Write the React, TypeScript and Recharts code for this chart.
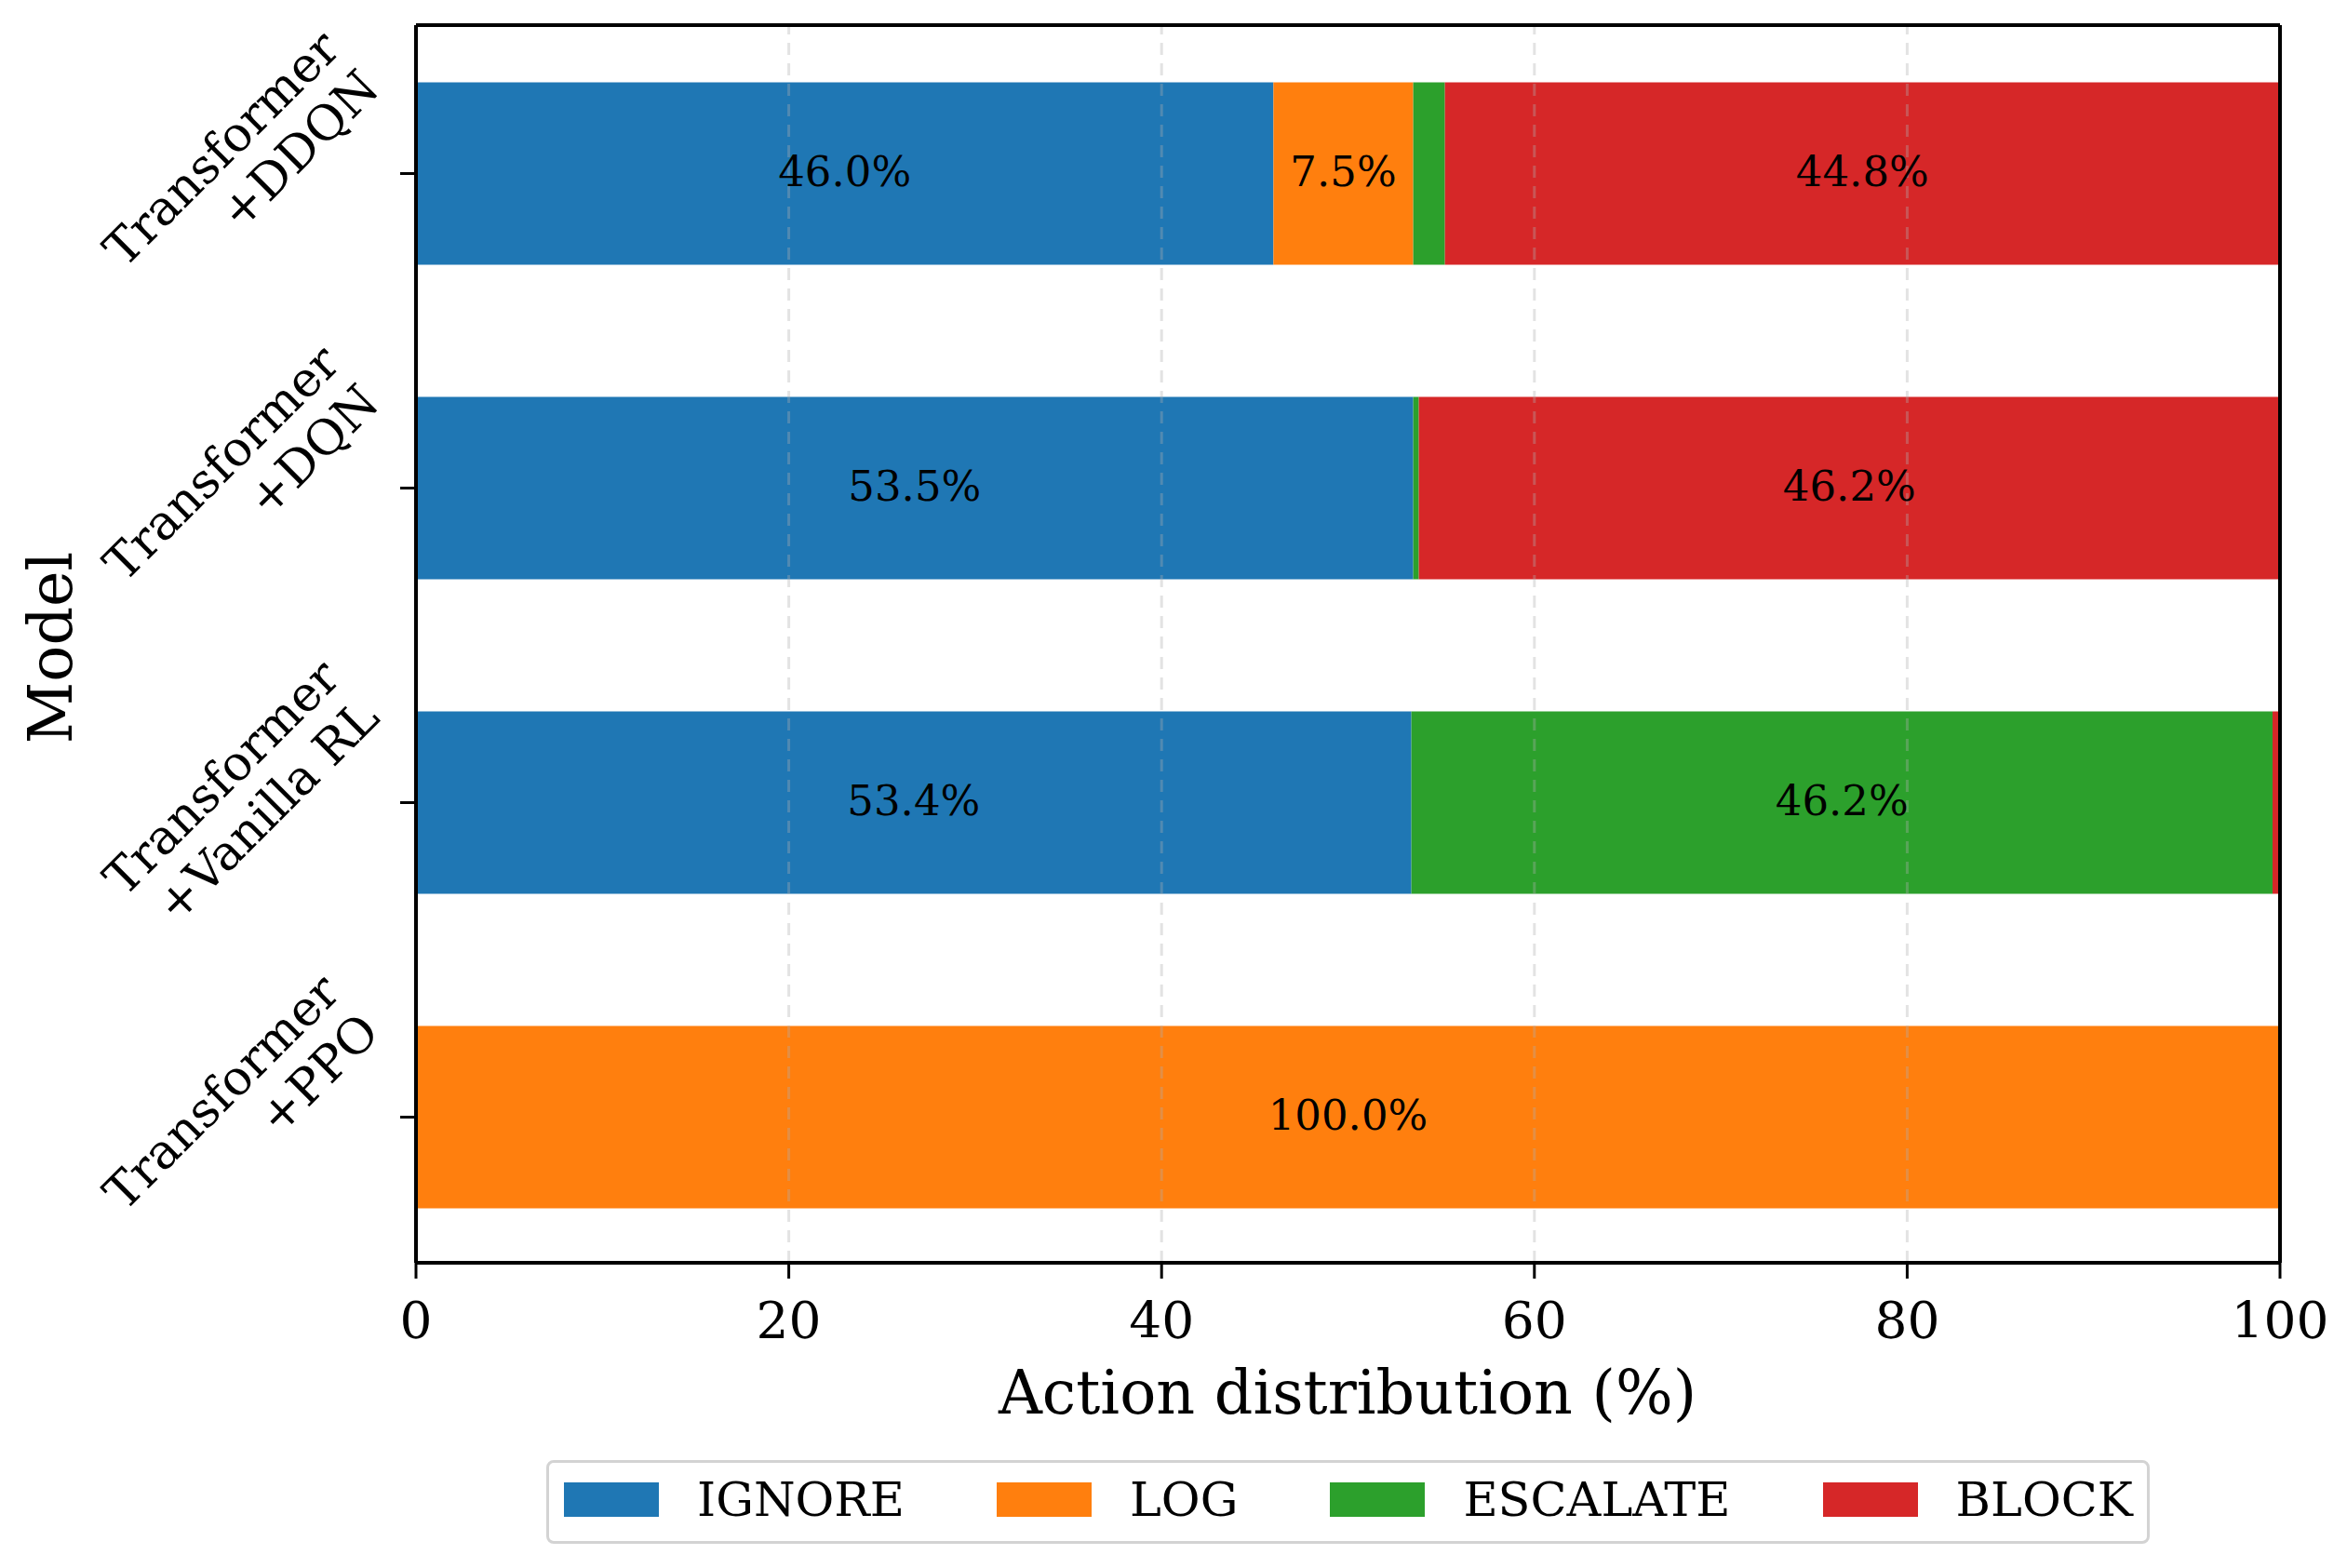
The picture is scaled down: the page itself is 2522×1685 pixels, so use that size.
import { BarChart, Bar, XAxis, YAxis, Legend, LabelList, ReferenceLine, Label } from "recharts";

const MODELS = ["Transformer\n+DDQN", "Transformer\n+DQN", "Transformer\n+Vanilla RL", "Transformer\n+PPO"];
const ACTIONS = ["IGNORE", "LOG", "ESCALATE", "BLOCK"];
const COLORS = ["#1f77b4", "#ff7f0e", "#2ca02c", "#d62728"];

// percent of actions per model, same order as MODELS
const IGNORE = [46.0, 53.5, 53.4, 0];
const LOG = [7.5, 0, 0, 100.0];
const ESCALATE = [1.7, 0.3, 46.2, 0];
const BLOCK = [44.8, 46.2, 0.4, 0];

const X_TICKS = [0, 20, 40, 60, 80, 100];
const GRID_TICKS = [20, 40, 60, 80];

const data = MODELS.map((model, i) => ({
  model,
  IGNORE: IGNORE[i],
  LOG: LOG[i],
  ESCALATE: ESCALATE[i],
  BLOCK: BLOCK[i],
}));

const FONT = "DejaVu Serif";
const W = 2522;
const H = 1685;
const PLOT_LEFT = 447;
const PLOT_BOTTOM = 1357;

function XTick(props: any) {
  const { x, payload } = props;
  return (
    <text x={x} y={1438} textAnchor="middle" fontFamily={FONT} fontSize={55} fill="#000">
      {payload.value}
    </text>
  );
}

function YTick(props: any) {
  const { y, payload } = props;
  const lines = String(payload.value).split("\n");
  const ax = PLOT_LEFT - 37;
  const ay = y - 89;
  return (
    <g transform={`translate(${ax},${ay}) rotate(-45)`}>
      {lines.map((l, i) => (
        <text
          key={i}
          x={0}
          y={(i - (lines.length - 1)) * 60}
          textAnchor="end"
          fontFamily={FONT}
          fontSize={52}
          fill="#000"
        >
          {l}
        </text>
      ))}
    </g>
  );
}

function SegLabel(props: any) {
  const { x, y, width, height, value } = props;
  if (value == null || value < 5) return null;
  return (
    <text
      x={x + width / 2}
      y={y + height / 2 + 13}
      textAnchor="middle"
      fontFamily={FONT}
      fontSize={45}
      fill="#000"
    >
      {`${Number(value).toFixed(1)}%`}
    </text>
  );
}

function LegendBox() {
  return (
    <div
      style={{
        boxSizing: "border-box",
        width: 1723,
        height: 90,
        border: "3px solid #d3d3d3",
        borderRadius: 8,
        background: "#fff",
        display: "flex",
        alignItems: "center",
        paddingLeft: 16,
        paddingBottom: 6,
        fontFamily: FONT,
        fontSize: 51,
        lineHeight: 1,
        color: "#000",
      }}
    >
      {ACTIONS.map((a, i) => (
        <div key={a} style={{ display: "flex", alignItems: "center", marginRight: i < ACTIONS.length - 1 ? 99 : 0 }}>
          <div style={{ width: 102, height: 37, background: COLORS[i], marginRight: 41 }} />
          <span>{a}</span>
        </div>
      ))}
    </div>
  );
}

export default function App() {
  return (
    <div style={{ position: "absolute", left: 0, top: 0, width: W, height: H, background: "#fff" }}>
      <BarChart
        width={W}
        height={H}
        data={data}
        layout="vertical"
        margin={{ top: 26, right: 71, left: 0, bottom: 0 }}
        barSize={196}
      >
        <XAxis
          type="number"
          domain={[0, 100]}
          ticks={X_TICKS}
          height={H - PLOT_BOTTOM}
          tick={<XTick />}
          tickSize={17}
          tickLine={{ stroke: "#000", strokeWidth: 3 }}
          axisLine={{ stroke: "#000", strokeWidth: 4 }}
        >
          <Label
            content={() => (
              <text x={1448} y={1519} textAnchor="middle" fontFamily={FONT} fontSize={65} fill="#000">
                Action distribution (%)
              </text>
            )}
          />
        </XAxis>
        <XAxis
          xAxisId="top"
          orientation="top"
          type="number"
          domain={[0, 100]}
          height={1}
          ticks={X_TICKS}
          tick={false}
          tickLine={false}
          axisLine={{ stroke: "#000", strokeWidth: 4 }}
        />
        <YAxis
          type="category"
          dataKey="model"
          width={PLOT_LEFT}
          padding={{ top: -9.5, bottom: -12.5 }}
          tick={<YTick />}
          tickSize={17}
          tickLine={{ stroke: "#000", strokeWidth: 3 }}
          axisLine={{ stroke: "#000", strokeWidth: 4 }}
        >
          <Label
            content={() => (
              <text
                transform="translate(77,696) rotate(-90)"
                textAnchor="middle"
                fontFamily={FONT}
                fontSize={65}
                fill="#000"
              >
                Model
              </text>
            )}
          />
        </YAxis>
        <YAxis
          yAxisId="right"
          orientation="right"
          type="category"
          dataKey="model"
          width={1}
          tick={false}
          tickLine={false}
          axisLine={{ stroke: "#000", strokeWidth: 4 }}
        />
        {ACTIONS.map((a, i) => (
          <Bar key={a} dataKey={a} stackId="a" fill={COLORS[i]} isAnimationActive={false}>
            <LabelList dataKey={a} content={<SegLabel />} />
          </Bar>
        ))}
        {GRID_TICKS.map((t) => (
          <ReferenceLine
            key={t}
            x={t}
            stroke="#b0b0b0"
            strokeOpacity={0.35}
            strokeWidth={3}
            strokeDasharray="13 9"
          />
        ))}
        <Legend
          layout="horizontal"
          verticalAlign="middle"
          align="center"
          content={() => <LegendBox />}
          wrapperStyle={{ left: 587, top: 1569, width: 1723, height: 90 }}
        />
      </BarChart>
    </div>
  );
}
